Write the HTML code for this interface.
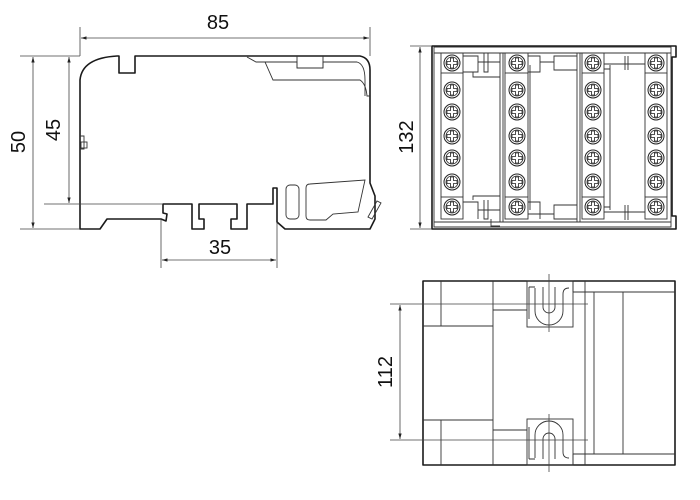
<!DOCTYPE html>
<html><head><meta charset="utf-8"><style>
html,body{margin:0;padding:0;background:#fff}
svg{display:block}
text{font-family:"Liberation Sans",sans-serif;font-size:20px;fill:#111}
.o{fill:none;stroke:#1a1a1a;stroke-width:1.6;stroke-linejoin:round}
.t{fill:none;stroke:#333;stroke-width:0.9}
.d{fill:none;stroke:#444;stroke-width:0.8}
</style></head><body>
<svg width="700" height="500" viewBox="0 0 700 500" xmlns="http://www.w3.org/2000/svg">
<defs>
<marker id="a" viewBox="0 0 10 10" refX="10" refY="5" markerWidth="7" markerHeight="7" orient="auto-start-reverse"><path d="M0,2 L10,5 L0,8 z" fill="#222"/></marker>
<g id="s"><circle r="8" fill="#fff" stroke="#222" stroke-width="1"/><circle r="6" fill="none" stroke="#222" stroke-width="0.8"/><path d="M-1.5,-5 h3 v3.5 h3.5 v3 h-3.5 v3.5 h-3 v-3.5 h-3.5 v-3 h3.5 z" fill="none" stroke="#222" stroke-width="0.8"/></g>
</defs>

<!-- SIDE VIEW -->
<path class="o" d="M80,229 V80 Q82,58 117,56 H119 V73 H135 V56 H360 Q370,58 370,70 V183 L375,196 V219 L370,229 H285 L277,222 V188 H273 V204 H247 V229 H231 V219 H237 V204 H199 V219 H204 V229 H192 V204 H163 V213 L167,214 L166,221 L161,219 H107 L100,229 Z"/>
<rect class="t" x="81" y="142" width="6" height="6"/>
<path class="t" d="M80,136 H84 V149 H80"/>
<path class="t" d="M247,57 L256,62 H265 L273,80 H360 Q366,84 367,96 H370"/>
<path class="t" d="M256,62 H297 V68 H323 V62 H357 Q365,64 365,80 V96"/>
<path class="t" d="M297,56 V68 M323,56 V68"/>
<rect class="t" x="286" y="185" width="13" height="34" rx="4"/>
<path class="t" d="M310,184 L365,180 L358,212 L333,214 L326,220 H310 Q306,220 306,216 V188 Q306,184 310,184 Z"/>
<path class="t" d="M368,217 L377,201 L381,203 L372,219 Z"/>

<!-- side dims -->
<path class="d" d="M80,27 V56 M370,27 V56" />
<line class="d" x1="81" y1="38" x2="369" y2="38" marker-start="url(#a)" marker-end="url(#a)"/>
<text x="218" y="29" text-anchor="middle">85</text>
<path class="d" d="M20,56 H80 M20,229 H80 M44,204 H163"/>
<line class="d" x1="33" y1="57" x2="33" y2="228" marker-start="url(#a)" marker-end="url(#a)"/>
<line class="d" x1="69" y1="57" x2="69" y2="203" marker-start="url(#a)" marker-end="url(#a)"/>
<text transform="translate(25,142) rotate(-90)" text-anchor="middle">50</text>
<text transform="translate(60,130) rotate(-90)" text-anchor="middle">45</text>
<path class="d" d="M161,219 V268 M277,222 V268"/>
<line class="d" x1="162" y1="260" x2="276" y2="260" marker-start="url(#a)" marker-end="url(#a)"/>
<text x="220" y="254" text-anchor="middle">35</text>

<!-- TOP RIGHT VIEW -->
<path class="o" d="M432,46 H676 V57 H672 V216 H676 V229 H432 Z"/>
<path class="t" d="M434,47 H671 V227 H434 Z M434,53 H671 M434,222 H671"/>
<line class="d" x1="410" y1="46" x2="432" y2="46"/><line class="d" x1="410" y1="229" x2="432" y2="229"/>
<line class="d" x1="420" y1="47" x2="420" y2="228" marker-start="url(#a)" marker-end="url(#a)"/>
<text transform="translate(413,137) rotate(-90)" text-anchor="middle">132</text>
<path class="t" d="M441,73 V197 M463,73 V197 M505,73 V197 M528,73 V197 M582,73 V197 M604,73 V197 M645,73 V197 M667,73 V197"/>
<path class="t" d="M500,53 V222 M503,53 V222 M577,53 V222 M580,53 V222 M610,65 V210 M530,65 V210"/>
<rect class="t" x="441" y="53" width="22" height="20"/><rect class="t" x="441" y="197" width="22" height="22"/>
<rect class="t" x="505" y="53" width="23" height="20"/><rect class="t" x="505" y="197" width="23" height="22"/>
<rect class="t" x="582" y="53" width="22" height="20"/><rect class="t" x="582" y="197" width="22" height="22"/>
<rect class="t" x="645" y="53" width="22" height="20"/><rect class="t" x="645" y="197" width="22" height="22"/>
<path class="t" d="M463,56 H478 V72 H463 M478,62 H500 M484,53 V72 H488 V53 M473,72 V77 H500 M463,202 H478 V219 M478,210 H500 M484,200 V219 H488 V200 M473,200 V196 H500 M491,219 V226 H500"/>
<path class="t" d="M528,56 H540 V72 H528 M540,62 H554 V70 H577 M554,62 V56 H577 M528,214 H554 V205 H577 M528,202 H540 V219 M554,214 V219 H577"/>
<path class="t" d="M604,64 H645 M625,56 V70 M628,56 V70 M604,212 H645 M625,205 V220 M628,205 V220 M610,69 H604 M610,207 H604"/>
<g>
<use href="#s" x="452" y="63"/><use href="#s" x="517" y="63"/><use href="#s" x="593" y="63"/><use href="#s" x="656" y="63"/>
<use href="#s" x="452" y="90"/><use href="#s" x="517" y="90"/><use href="#s" x="593" y="90"/><use href="#s" x="656" y="90"/>
<use href="#s" x="452" y="112"/><use href="#s" x="517" y="112"/><use href="#s" x="593" y="112"/><use href="#s" x="656" y="112"/>
<use href="#s" x="452" y="136"/><use href="#s" x="517" y="136"/><use href="#s" x="593" y="136"/><use href="#s" x="656" y="136"/>
<use href="#s" x="452" y="158"/><use href="#s" x="517" y="158"/><use href="#s" x="593" y="158"/><use href="#s" x="656" y="158"/>
<use href="#s" x="452" y="182"/><use href="#s" x="517" y="182"/><use href="#s" x="593" y="182"/><use href="#s" x="656" y="182"/>
<use href="#s" x="452" y="207"/><use href="#s" x="517" y="207"/><use href="#s" x="593" y="207"/><use href="#s" x="656" y="207"/>
</g>

<!-- BOTTOM RIGHT VIEW -->
<rect class="o" x="423" y="281" width="252" height="184"/>
<path class="t" d="M441,281 V326 M423,326 H493 M441,420 V465 M423,420 H493 M493,281 V465"/>
<rect class="t" x="527" y="281" width="46" height="46"/>
<rect class="t" x="527" y="419" width="46" height="46"/>
<path class="t" d="M493,310 H527 M493,430 H527"/>
<path class="t" d="M585,281 V465 M573,292 H675 M573,454 H675 M594,292 V454 M623,292 V454 M573,281 V292 M573,454 V465"/>
<path class="t" d="M543,287 V307 A6,6 0 0 0 555,307 V287 M535,288 V311 A14,14 0 0 0 563,311 V294 Q563,288 569,288"/>
<path class="t" d="M529,287 H535 M529,287 V319"/>
<path class="t" d="M543,459 V439 A6,6 0 0 1 555,439 V459 M535,458 V435 A14,14 0 0 1 563,435 V452 Q563,458 569,458"/>
<path class="t" d="M529,459 H535 M529,459 V427"/>
<path class="d" d="M549,274 V332 M549,414 V472 M390,304 H588 M390,440 H588"/>
<line class="d" x1="400" y1="305" x2="400" y2="439" marker-start="url(#a)" marker-end="url(#a)"/>
<text transform="translate(392,372) rotate(-90)" text-anchor="middle">112</text>
</svg>
</body></html>
